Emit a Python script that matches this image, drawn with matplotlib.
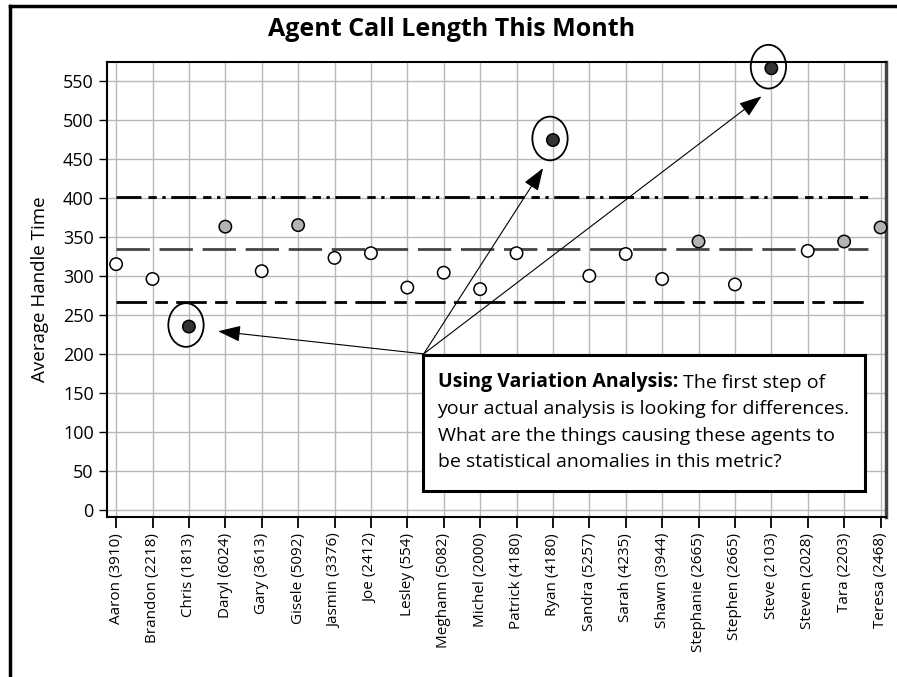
import matplotlib
matplotlib.use("Agg")
import matplotlib.pyplot as plt
from matplotlib.patches import Ellipse, Rectangle
from matplotlib.lines import Line2D


# Daten
AGENTS = [
    "Aaron (3910)", "Brandon (2218)", "Chris (1813)", "Daryl (6024)",
    "Gary (3613)", "Gisele (5092)", "Jasmin (3376)", "Joe (2412)",
    "Lesley (554)", "Meghann (5082)", "Michel (2000)", "Patrick (4180)",
    "Ryan (4180)", "Sandra (5257)", "Sarah (4235)", "Shawn (3944)",
    "Stephanie (2665)", "Stephen (2665)", "Steve (2103)", "Steven (2028)",
    "Tara (2203)", "Teresa (2468)",
]
HANDLE_TIME = [
    315, 296, 235, 363, 306, 365, 323, 329, 285, 304, 283,
    329, 474, 300, 328, 296, 344, 289, 566, 332, 344, 362,
]
UCL = 401
MEAN = 334.5
LCL = 267
OUTLIERS = ["Chris (1813)", "Ryan (4180)", "Steve (2103)"]

Y_TICKS = [0, 50, 100, 150, 200, 250, 300, 350, 400, 450, 500, 550]

# Plot-Einstellungen
DPI = 100
FONT = "Open Sans"


def point_color(v):
    if v > UCL or v < LCL:
        return "#333333"
    if v > MEAN:
        return "#b3b3b3"
    return "white"


def main():
    plt.rcParams["font.family"] = [FONT, "DejaVu Sans"]

    fig = plt.figure(figsize=(8.97, 6.77), dpi=DPI)
    ax = fig.add_axes([107 / 897, 1 - 517 / 677, 779 / 897, 455 / 677])

    x = list(range(len(AGENTS)))

    # Gitter
    ax.set_axisbelow(True)
    ax.grid(True, color="#b8b8b8", linewidth=1.0)

    # Kontrollgrenzen
    x_end = len(AGENTS) - 1.35
    ax.plot([0, x_end], [UCL, UCL], color="black", linewidth=2,
            linestyle=(0, (9, 2.5, 3, 2, 1.2, 2)))
    ax.plot([0, x_end], [MEAN, MEAN], color="#444444", linewidth=2,
            linestyle=(0, (12, 3.5)))
    ax.plot([0, x_end], [LCL, LCL], color="black", linewidth=2,
            linestyle=(0, (11, 3, 4.5, 3)))

    # Punkte
    ax.scatter(x, HANDLE_TIME, s=80, c=[point_color(v) for v in HANDLE_TIME],
               edgecolors="black", linewidths=1.1, zorder=4, clip_on=False)

    # Ellipsen um Ausreißer + Pfeile
    origin = (8.45, 200)
    for name in OUTLIERS:
        i = AGENTS.index(name)
        v = HANDLE_TIME[i]
        ax.add_patch(Ellipse((i - 0.08, v + 2), 0.97, 56, fill=False,
                             edgecolor="black", linewidth=1.3, zorder=5,
                             clip_on=False))
        if i < origin[0]:
            tip = (i + 0.8, v - 6)
        else:
            tip = (i - 0.27, v - 36)
        ax.annotate("", xy=tip, xytext=origin,
                    arrowprops=dict(arrowstyle="-|>,head_length=1.4,head_width=0.5",
                                    color="black", linewidth=0.8,
                                    shrinkA=0, shrinkB=0),
                    zorder=6)

    # Textbox
    ax.add_patch(Rectangle((8.42, 24.7), 12.16, 174, facecolor="white",
                           edgecolor="black", linewidth=2.2, zorder=7))
    t = ax.text(8.83, 158, "Using Variation Analysis:", fontsize=14,
                fontweight="bold", va="baseline", zorder=8)
    ax.annotate(" The first step of", xy=(1, 0), xycoords=t,
                fontsize=14, va="bottom", zorder=8)
    lines = [
        "your actual analysis is looking for differences.",
        "What are the things causing these agents to",
        "be statistical anomalies in this metric?",
    ]
    for k, line in enumerate(lines):
        ax.text(8.83, 158 - (k + 1) * 34.5, line, fontsize=14,
                va="baseline", zorder=8)

    # Achsen
    ax.set_xlim(-0.25, len(AGENTS) - 0.85)
    ax.set_ylim(-9, 574)
    ax.set_xticks(x)
    ax.set_xticklabels(AGENTS, rotation=90, fontsize=11)
    ax.set_yticks(Y_TICKS)
    ax.tick_params(axis="y", labelsize=13, length=6, width=1)
    ax.tick_params(axis="x", length=8, width=1.3)
    ax.set_ylabel("Average Handle Time", fontsize=13.5, labelpad=10)

    for side in ["left", "top", "bottom"]:
        ax.spines[side].set_linewidth(1.5)
    ax.spines["right"].set_color("#444444")
    ax.spines["right"].set_linewidth(2.5)

    # Titel
    fig.text(452 / 897, 1 - 30 / 677, "Agent Call Length This Month",
             fontsize=18, fontweight="bold", ha="center", va="center")

    # Rahmen
    fig.add_artist(Line2D([10 / 897, 1], [1 - 6 / 677] * 2, color="black",
                          linewidth=2.5, transform=fig.transFigure))
    fig.add_artist(Line2D([10 / 897] * 2, [0, 1 - 6 / 677], color="black",
                          linewidth=2.5, transform=fig.transFigure))

    fig.savefig("out.png", dpi=DPI)
    plt.close(fig)


if __name__ == "__main__":
    main()
